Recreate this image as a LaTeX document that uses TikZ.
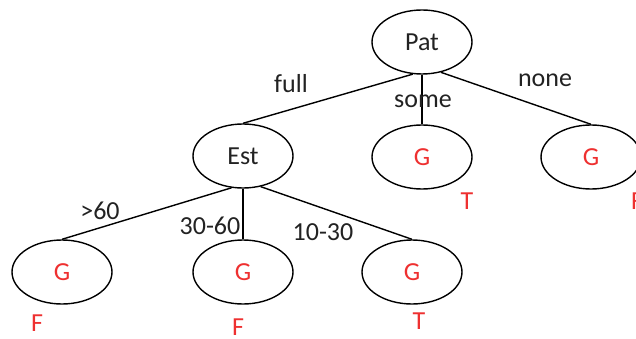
\documentclass[tikz,border=0pt]{standalone}
\usepackage{fontspec}
\setmainfont{Carlito}
\usetikzlibrary{shapes.geometric}
\definecolor{lblred}{RGB}{238,48,48}
\definecolor{txt}{RGB}{34,34,34}
\begin{document}
\begin{tikzpicture}[x=1pt,y=-1pt,
  oval/.style={draw=black,ellipse,line width=1.4pt,minimum width=100pt,minimum height=64pt,inner sep=0pt,font=\fontsize{26}{29}\selectfont},
  edge/.style={line width=1.4pt,draw=black},
  elabel/.style={font=\fontsize{26}{29}\selectfont,text=txt,inner sep=0pt},
  res/.style={font=\fontsize{26}{29}\selectfont,text=lblred,inner sep=0pt}]
\clip (0,0) rectangle (636,339);
\useasboundingbox (0,0) rectangle (636,339);
% nodes
\node[oval,text=txt] (pat) at (422,42) {Pat};
\node[oval,text=txt] (est) at (243,156) {Est};
\node[oval,text=lblred] (g1) at (422,157) {G};
\node[oval,text=lblred] (g2) at (591,157) {G};
\node[oval,text=lblred] (gl) at (62,272) {G};
\node[oval,text=lblred] (gm) at (243,272) {G};
\node[oval,text=lblred] (gr) at (412,272) {G};
% edges
\draw[edge] (pat.254) -- (est.north);
\draw[edge] (pat.south) -- (g1.north);
\draw[edge] (pat.302) -- (g2.north);
\draw[edge] (est.250) -- (gl.north);
\draw[edge] (est.south) -- (gm.north);
\draw[edge] (est.300) -- (gr.north);
% edge labels
\node[elabel] (lfull) at (291,84) {full};
\node[elabel] (lsome) at (423,101) {some};
\node[elabel] (lnone) at (545,80) {none};
\node[elabel] (lgt) at (100,211) {>60};
\node[elabel] (l3060) at (210,226) {30-60};
\node[elabel] (l1030) at (323,232) {10-30};
% results
\node[res] (r1) at (467,201) {T};
\node[res] (r2) at (637,201) {F};
\node[res] (r3) at (37,323) {F};
\node[res] (r4) at (238,327) {F};
\node[res] (r5) at (419,321) {T};
\end{tikzpicture}
\end{document}
